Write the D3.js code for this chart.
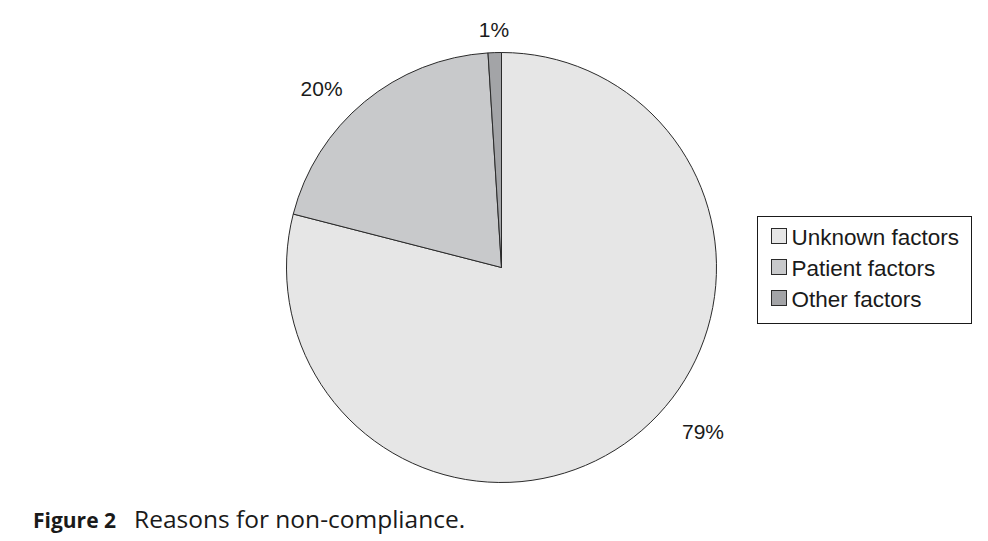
<!DOCTYPE html>
<html>
<head>
<meta charset="utf-8">
<script src="https://cdn.jsdelivr.net/npm/d3@7"></script>
<style>
  body { margin: 0; background: #fff; }
  svg { display: block; }
</style>
</head>
<body>
<div id="chart"></div>
<script>
const categories = ["Unknown factors", "Patient factors", "Other factors"];
const shares = [79, 20, 1];
const sliceColors = ["#e6e6e6", "#c8c9cb", "#a3a4a7"];

const width = 988;
const height = 541;
const cx = 501.5, cy = 267.5, radius = 215;
const sans = "'Liberation Sans', Arial, Helvetica, sans-serif";

// where the data labels sit (angle nudge in degrees, distance from centre)
const labelNudge = [-13, -5.5, 0];
const labelDist = [260, 254, 238];

const data = categories.map((name, i) => ({ name, value: shares[i] }));

const svg = d3.select("#chart").append("svg")
  .attr("width", width).attr("height", height);

const pie = d3.pie().sort(null).value(d => d.value);
const arc = d3.arc().innerRadius(0).outerRadius(radius);
const color = d3.scaleOrdinal().domain(categories).range(sliceColors);

const arcs = pie(data);

const g = svg.append("g").attr("transform", `translate(${cx},${cy})`);

g.selectAll("path").data(arcs).join("path")
  .attr("d", arc)
  .attr("fill", d => color(d.data.name))
  .attr("stroke", "#2a2a2a")
  .attr("stroke-width", 1);

// LABELS
g.selectAll("text").data(arcs).join("text")
  .attr("transform", (d, i) => {
    const a = (d.startAngle + d.endAngle) / 2 + labelNudge[i] * Math.PI / 180;
    const r = labelDist[i];
    return `translate(${r * Math.sin(a)},${-r * Math.cos(a)})`;
  })
  .attr("text-anchor", "middle")
  .attr("dy", "0.36em")
  .style("font-family", sans)
  .style("font-size", "21px")
  .attr("fill", "#1a1a1a")
  .text(d => `${d.data.value}%`);

// LEGEND
const legend = svg.append("g").attr("transform", "translate(757.5,216.5)");
legend.append("rect")
  .attr("width", 214).attr("height", 107)
  .attr("fill", "#fff").attr("stroke", "#1a1a1a").attr("stroke-width", 1);

const rowY = d3.scalePoint().domain(categories).range([20, 82]);

const rows = legend.selectAll("g.row").data(categories).join("g")
  .attr("class", "row")
  .attr("transform", d => `translate(0,${rowY(d)})`);

rows.append("rect")
  .attr("x", 14).attr("y", -8).attr("width", 15).attr("height", 15)
  .attr("fill", d => color(d))
  .attr("stroke", "#2a2a2a").attr("stroke-width", 1);

rows.append("text")
  .attr("x", 34).attr("dy", "0.36em")
  .style("font-family", sans)
  .style("font-size", "22.5px")
  .attr("fill", "#1a1a1a")
  .text(d => d);

// CAPTION
const cap = svg.append("text")
  .attr("x", 33).attr("y", 528)
  .style("font-family", "'Open Sans', 'Noto Sans', sans-serif")
  .attr("fill", "#1a1a1a");
cap.append("tspan").style("font-weight", "bold").style("font-size", "21px").text("Figure 2");
cap.append("tspan").attr("dx", 18).style("font-size", "24.5px").text("Reasons for non-compliance.");
</script>
</body>
</html>
